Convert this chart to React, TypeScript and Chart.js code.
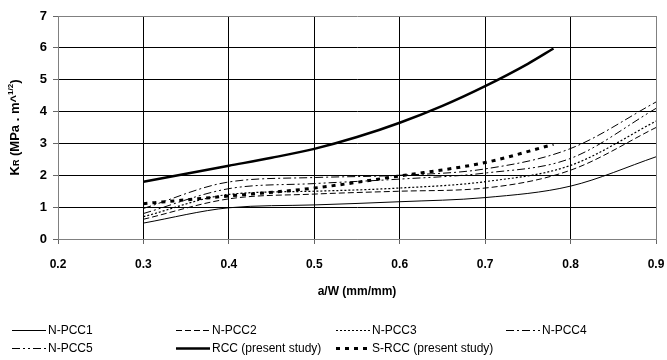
import React, { useEffect, useRef } from 'react';
import { Chart, registerables } from 'chart.js';
Chart.register(...registerables);

// ---- data ----
const aW = [0.3, 0.4, 0.5, 0.6, 0.7, 0.8, 0.9];
const nPcc1 = [0.5, 0.98, 1.07, 1.17, 1.3, 1.66, 2.58];
const nPcc2 = [0.62, 1.26, 1.41, 1.5, 1.6, 2.16, 3.5];
const nPcc3 = [0.7, 1.4, 1.5, 1.6, 1.8, 2.31, 3.7];
const nPcc4 = [0.96, 1.79, 1.93, 2.0, 2.2, 2.84, 4.3];
const nPcc5 = [0.8, 1.58, 1.74, 1.88, 2.07, 2.53, 4.1];
const rccX = [0.3, 0.35, 0.4, 0.45, 0.5, 0.55, 0.6, 0.65, 0.7, 0.75, 0.78];
const rccY = [1.8, 2.05, 2.3, 2.55, 2.83, 3.2, 3.65, 4.18, 4.8, 5.5, 5.98];
const sRccX = [0.3, 0.4, 0.5, 0.6, 0.7, 0.78];
const sRccY = [1.11, 1.35, 1.6, 1.98, 2.4, 2.97];
const xTickValues = [0.2, 0.3, 0.4, 0.5, 0.6, 0.7, 0.8, 0.9];
const yTickValues = [0, 1, 2, 3, 4, 5, 6, 7];
const seriesNames = [
  'N-PCC1',
  'N-PCC2',
  'N-PCC3',
  'N-PCC4',
  'N-PCC5',
  'RCC (present study)',
  'S-RCC (present study)',
];
const xTitle = 'a/W (mm/mm)';

const pts = (xs: number[], ys: number[]) => ys.map((y, i) => ({ x: xs[i], y }));

const FONT = '"Liberation Sans", Arial, sans-serif';

const overlayPlugin = {
  id: 'overlay',
  afterDraw(chart: any) {
    const ctx: CanvasRenderingContext2D = chart.ctx;
    const area = chart.chartArea;
    ctx.save();
    // x title
    ctx.fillStyle = '#000';
    ctx.font = `bold 12px ${FONT}`;
    ctx.textAlign = 'center';
    ctx.textBaseline = 'middle';
    ctx.fillText(xTitle, (area.left + area.right) / 2, 292);

    // y title with sub/superscript
    const segs: [string, number, number][] = [
      ['K', 13, 0],
      ['R', 9, 0],
      [' (MPa . m^', 13, 0],
      ['1/2', 8, -6],
      [')', 13, 0],
    ];
    let total = 0;
    for (const s of segs) {
      ctx.font = `bold ${s[1]}px ${FONT}`;
      total += ctx.measureText(s[0]).width;
    }
    ctx.translate(19, (area.top + area.bottom) / 2);
    ctx.rotate(-Math.PI / 2);
    ctx.textAlign = 'left';
    ctx.textBaseline = 'alphabetic';
    let cx = -total / 2;
    for (const s of segs) {
      ctx.font = `bold ${s[1]}px ${FONT}`;
      ctx.fillText(s[0], cx, 0 + s[2]);
      cx += ctx.measureText(s[0]).width;
    }
    ctx.restore();

    // legend
    ctx.save();
    const cols = [12, 176, 336, 506];
    const rows = [330, 348];
    chart.data.datasets.forEach((ds: any, i: number) => {
      const r = Math.floor(i / 4);
      const c = i % 4;
      const x = cols[c];
      const y = rows[r];
      ctx.strokeStyle = '#000';
      ctx.lineWidth = ds.borderWidth;
      ctx.setLineDash(ds.borderDash || []);
      ctx.beginPath();
      ctx.moveTo(x, y + 0.5);
      ctx.lineTo(x + 34, y + 0.5);
      ctx.stroke();
      ctx.setLineDash([]);
      ctx.fillStyle = '#000';
      ctx.font = `12px ${FONT}`;
      ctx.textAlign = 'left';
      ctx.textBaseline = 'middle';
      ctx.fillText(ds.label, x + 36, y + 1);
    });
    ctx.restore();
  },
};

export default function App() {
  const ref = useRef<HTMLCanvasElement>(null);
  useEffect(() => {
    document.body.style.margin = '0';
    const canvas = ref.current!;
    const base = {
      pointRadius: 0,
      borderColor: '#000',
      backgroundColor: '#000',
      fill: false,
      cubicInterpolationMode: 'monotone' as const,
    };
    const chart = new Chart(canvas, {
      type: 'line',
      data: {
        datasets: [
          { ...base, label: seriesNames[0], data: pts(aW, nPcc1), borderWidth: 1 },
          { ...base, label: seriesNames[1], data: pts(aW, nPcc2), borderWidth: 1, borderDash: [6, 3] },
          { ...base, label: seriesNames[2], data: pts(aW, nPcc3), borderWidth: 1.2, borderDash: [2, 2] },
          { ...base, label: seriesNames[3], data: pts(aW, nPcc4), borderWidth: 1, borderDash: [8, 3, 2, 3] },
          { ...base, label: seriesNames[4], data: pts(aW, nPcc5), borderWidth: 1, borderDash: [8, 3, 2, 3, 2, 3] },
          { ...base, label: seriesNames[5], data: pts(rccX, rccY), borderWidth: 2.5 },
          { ...base, label: seriesNames[6], data: pts(sRccX, sRccY), borderWidth: 3, borderDash: [4, 5] },
        ],
      },
      options: {
        responsive: false,
        animation: false,
        devicePixelRatio: 1,
        layout: { padding: { top: 16, right: 0, left: 0, bottom: 0 } },
        plugins: {
          legend: { display: false },
          tooltip: { enabled: false },
          title: { display: false },
        },
        scales: {
          x: {
            type: 'linear',
            min: 0.2,
            max: 0.9,
            afterBuildTicks: (s: any) => {
              s.ticks = xTickValues.map((v) => ({ value: v }));
            },
            afterFit: (s: any) => {
              s.height = 121;
              s.paddingLeft = 0;
              s.paddingRight = 11;
            },
            ticks: {
              padding: 13,
              color: '#000',
              font: { family: FONT, size: 12, weight: 'bold' },
              maxRotation: 0,
              callback: (v: any) => Number(v).toFixed(1),
            },
            grid: {
              color: (c: any) =>
                c.tick && (c.tick.value === 0.2 || c.tick.value === 0.9) ? '#808080' : '#000',
              tickColor: '#666',
              tickLength: 5,
              lineWidth: 1,
            },
            border: { color: '#808080', width: 1 },
          },
          y: {
            min: 0,
            max: 7,
            afterBuildTicks: (s: any) => {
              s.ticks = yTickValues.map((v) => ({ value: v }));
            },
            afterFit: (s: any) => {
              s.width = 58;
              s.paddingTop = 0;
              s.paddingBottom = 0;
            },
            ticks: {
              padding: 6,
              color: '#000',
              font: { family: FONT, size: 13, weight: 'bold' },
            },
            grid: {
              color: (c: any) =>
                c.tick && (c.tick.value === 0 || c.tick.value === 7) ? '#808080' : '#000',
              tickColor: '#666',
              tickLength: 5,
              lineWidth: 1,
            },
            border: { color: '#808080', width: 1 },
          },
        },
      },
      plugins: [overlayPlugin],
    } as any);
    return () => chart.destroy();
  }, []);
  return (
    <div style={{ width: 667, height: 360 }}>
      <canvas ref={ref} width={667} height={360} style={{ display: 'block' }} />
    </div>
  );
}
